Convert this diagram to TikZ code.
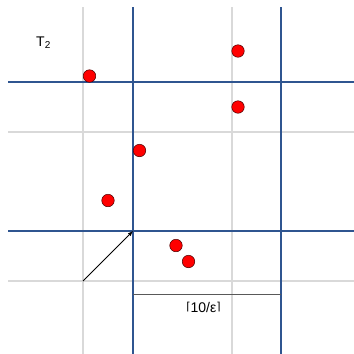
\documentclass[tikz,border=0pt]{standalone}
\usepackage{fontspec}
\setmainfont{Liberation Sans}
\newfontfamily\djv{DejaVu Sans}
\definecolor{gridblue}{HTML}{2F5590}
\definecolor{gridgrey}{HTML}{D9D9D9}
\definecolor{dotred}{HTML}{FF0000}
\begin{document}
\begin{tikzpicture}[x=1pt,y=-1pt,
  blueline/.style={draw=gridblue,line width=2pt},
  greyline/.style={draw=gridgrey,line width=2pt},
  dot/.style={circle,fill=dotred,draw=black!70!red,line width=0.5pt,minimum size=12.5pt,inner sep=0pt},
  dimline/.style={draw=black!65,line width=0.8pt},
  lbl/.style={inner sep=0pt,font=\fontsize{14}{16}\selectfont}]
\useasboundingbox (0,0) rectangle (354,354);
% grey grid lines
\coordinate (gv1t) at (83,7);   \coordinate (gv1b) at (83,354);
\coordinate (gv2t) at (232,7);  \coordinate (gv2b) at (232,354);
\coordinate (gh1l) at (8,132);  \coordinate (gh1r) at (354,132);
\coordinate (gh2l) at (8,281);  \coordinate (gh2r) at (354,281);
\draw[greyline] (gv1t) -- (gv1b);
\draw[greyline] (gv2t) -- (gv2b);
\draw[greyline] (gh1l) -- (gh1r);
\draw[greyline] (gh2l) -- (gh2r);
% blue grid lines
\coordinate (bv1t) at (133,7);  \coordinate (bv1b) at (133,354);
\coordinate (bv2t) at (281,7);  \coordinate (bv2b) at (281,354);
\coordinate (bh1l) at (8,82);   \coordinate (bh1r) at (354,82);
\coordinate (bh2l) at (8,231);  \coordinate (bh2r) at (354,231);
\draw[blueline] (bv1t) -- (bv1b);
\draw[blueline] (bv2t) -- (bv2b);
\draw[blueline] (bh1l) -- (bh1r);
\draw[blueline] (bh2l) -- (bh2r);
% arrow
\coordinate (as) at (83,281);
\coordinate (ae) at (133,231);
\draw[-latex,line width=0.8pt] (as) -- (ae);
% dimension line
\coordinate (dl) at (133,294.5);
\coordinate (dr) at (281,294.5);
\draw[dimline] (dl) -- (dr);
\node[lbl] (dimlabel) at (203.5,307) {{\djv\fontsize{11}{13}\selectfont\raisebox{1.5pt}{⌈}}10/ε{\djv\fontsize{11}{13}\selectfont\raisebox{1.5pt}{⌉}}};
% T2 label
\node[lbl,anchor=south west] (tlabel) at (36,48.5) {T\textsubscript{\fontsize{10}{12}\selectfont 2}};
% dots
\node[dot] (p1) at (89.5,76) {};
\node[dot] (p2) at (139.5,150.5) {};
\node[dot] (p3) at (108,200.5) {};
\node[dot] (p4) at (238,51) {};
\node[dot] (p5) at (238,107) {};
\node[dot] (p6) at (176,245.5) {};
\node[dot] (p7) at (188.5,261.5) {};
\end{tikzpicture}
\end{document}
